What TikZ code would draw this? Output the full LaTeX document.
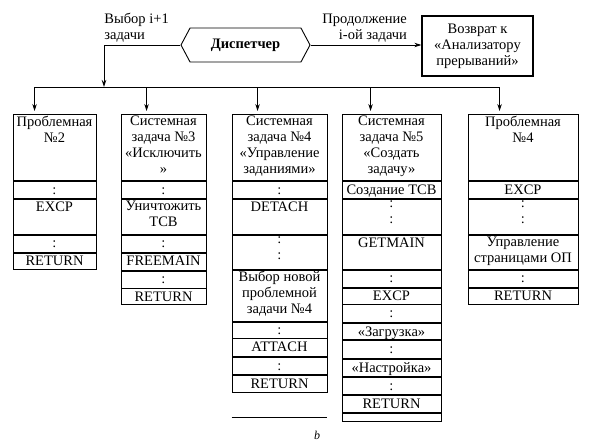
\documentclass[tikz,border=0pt]{standalone}
\usepackage{fontspec}
\setmainfont{Liberation Serif}
\usetikzlibrary{arrows.meta,positioning,shapes.symbols}

\begin{document}
\begin{tikzpicture}[x=1pt,y=-1pt,line width=0.9pt,
   font=\fontsize{14.5}{16}\selectfont,
   arr/.style={-{Stealth[length=7pt,width=4.5pt]}},
   cell/.style={draw,anchor=north,inner sep=0pt,minimum height=#1},
   txt/.style={anchor=north,align=center,inner xsep=0pt,inner ysep=1.5pt,
               execute at begin node=\strut},
   note/.style={align=left,inner sep=0pt}]
  \useasboundingbox (0,0) rectangle (594,444);
  % dispatcher and the return box
  \node[draw,signal,signal to=west and east,signal pointer angle=124,
        minimum width=129pt,minimum height=34pt,inner sep=0pt,
        font=\fontsize{14.5}{16}\selectfont\bfseries] (disp) at (245.5,45) {Диспетчер};
  \node[draw,line width=1.3pt,minimum width=111pt,minimum height=60pt,
        align=center,inner sep=0pt] (ret) at (477.5,46) {Возврат к\\«Анализатору\\прерываний»};
  \coordinate (bus) at (104,87);
  \draw[arr] (disp.west) -| (bus);
  \draw[arr] (disp.east) -- (disp.east -| ret.west);
  \node[note,anchor=south west] (selnote) at ([yshift=2pt]disp.west -| bus) {Выбор i+1\\задачи};
  \node[note,align=right,anchor=south east] (contnote)
        at ([xshift=-14pt,yshift=2pt]disp.east -| ret.west) {Продолжение\\i-ой задачи};
  % task columns
  \node[cell=66,minimum width=83pt,label={[txt]north:{Проблемная\\№2}}] (p2-1) at (54.5,114) {};
  \foreach \h/\t [count=\i from 2,remember=\i as \j (initially 1)] in
      {17/:,35/EXCP,17/:,16/RETURN}
    \node[cell=\h,minimum width=83pt,label={[txt]north:{\t}}] (p2-\i) at (p2-\j.south) {};
  \node[cell=66,minimum width=85pt,label={[txt]north:{Системная\\задача №3\\«Исключить\\»}}]
        (s3-1) at (163.5,114) {};
  \foreach \h/\t [count=\i from 2,remember=\i as \j (initially 1)] in
      {17/:,35/{Уничтожить\\TCB},17/:,17/FREEMAIN,17/:,16/RETURN}
    \node[cell=\h,minimum width=85pt,label={[txt]north:{\t}}] (s3-\i) at (s3-\j.south) {};
  \node[cell=66,minimum width=95pt,label={[txt]north:{Системная\\задача №4\\«Управление\\заданиями»}}]
        (s4-1) at (279.5,114) {};
  \foreach \h/\t [count=\i from 2,remember=\i as \j (initially 1)] in
      {17/:,35/DETACH,34/{:\\:},51/{Выбор новой\\проблемной\\задачи №4},16/:,18/ATTACH,17/:,17/RETURN}
    \node[cell=\h,minimum width=95pt,label={[txt]north:{\t}}] (s4-\i) at (s4-\j.south) {};
  \node[cell=66,minimum width=99pt,label={[txt]north:{Системная\\задача №5\\«Создать\\задачу»}}]
        (s5-1) at (391.5,114) {};
  \foreach \h/\t [count=\i from 2,remember=\i as \j (initially 1)] in
      {17/{Создание TCB},35/{:\\:},34/GETMAIN,17/:,16/EXCP,18/:,16/«Загрузка»,18/:,
       17/«Настройка»,17/:,17/RETURN,8/{}}
    \node[cell=\h,minimum width=99pt,label={[txt]north:{\t}}] (s5-\i) at (s5-\j.south) {};
  \node[cell=66,minimum width=110pt,label={[txt]north:{Проблемная\\№4}}] (p4-1) at (523,114) {};
  \foreach \h/\t [count=\i from 2,remember=\i as \j (initially 1)] in
      {17/EXCP,35/{:\\:},34/{Управление\\страницами ОП},17/:,16/RETURN}
    \node[cell=\h,minimum width=110pt,label={[txt]north:{\t}}] (p4-\i) at (p4-\j.south) {};
  % bus with the arrows into the columns
  \foreach \c/\d in {p2/22,s3/26,s4/26,s5/29,p4/32}{
    \coordinate (\c-in) at ([xshift=\d pt]\c-1.north west);
    \draw[arr,shorten >=3pt] (\c-in |- bus) -- (\c-in);
  }
  \draw (p2-in |- bus) -- (p4-in |- bus);
  \draw ([yshift=-24pt]s4-9.south west) -- ([yshift=-24pt]s4-9.south east);
  \node[font=\fontsize{12}{14}\selectfont\itshape] (cap) at (317,435) {b};
\end{tikzpicture}
\end{document}
